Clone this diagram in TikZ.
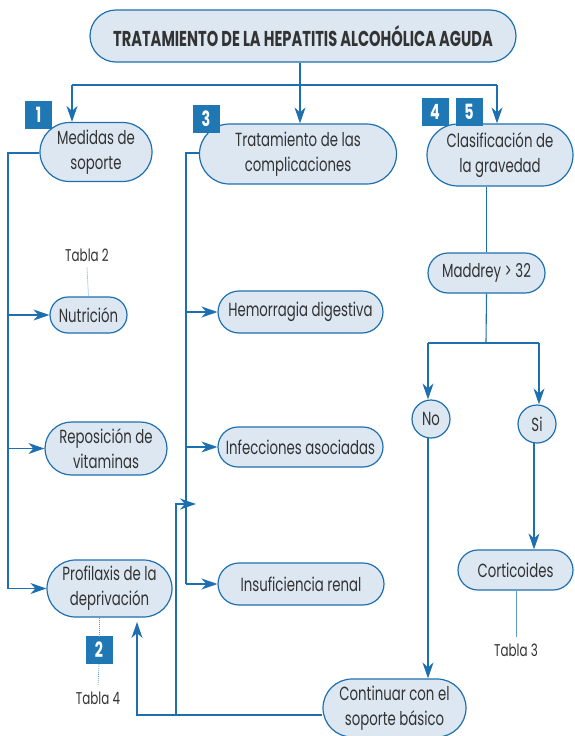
\documentclass[tikz,border=0pt]{standalone}
\usepackage{fontspec}
\setmainfont[FakeStretch=0.7]{Poppins}
\newfontfamily\titlefont[FakeStretch=0.68]{Poppins}
\usetikzlibrary{shapes.misc,shapes.geometric,arrows.meta}
\definecolor{bl}{HTML}{1E6FAF}
\definecolor{fillb}{HTML}{DCE7F2}
\definecolor{badge}{HTML}{1F77B4}
\definecolor{txt}{HTML}{333333}
\definecolor{lightl}{HTML}{5A9BD0}
\begin{document}
\begin{tikzpicture}[x=1pt,y=-1pt,
 pill/.style={rounded rectangle, draw=bl, fill=fillb, line width=1.2pt, inner sep=0pt, text=txt, font=\fontsize{19}{25}\selectfont, align=center},
 circ/.style={circle, draw=bl, fill=fillb, line width=1.2pt, inner sep=0pt, minimum size=38pt, text=txt, font=\fontsize{19}{20}\selectfont},
 conn/.style={draw=bl, line width=1.1pt},
 arr/.style={conn, -{Stealth[length=16pt,width=11pt,inset=5pt]}},
 badgebox/.style={fill=badge, text=white, font=\titlefont\bfseries\fontsize{21}{21}\selectfont, minimum width=27pt, minimum height=28pt, inner sep=0pt},
 lbl/.style={text=txt, font=\fontsize{17}{19}\selectfont, inner sep=0pt},
 dashl/.style={draw=lightl, line width=0.7pt, dash pattern=on 1pt off 1pt},
 solidl/.style={draw=lightl, line width=1pt}
]
\useasboundingbox (0,0) rectangle (574,736);
% nodes
\node[pill, minimum width=426pt, minimum height=52pt, font=\titlefont\bfseries\fontsize{21.5}{22}\selectfont] (title) at (303,36) {TRATAMIENTO DE LA HEPATITIS ALCOHÓLICA AGUDA};
\node[pill, minimum width=112pt, minimum height=59pt] (medidas) at (96,152) {Medidas de\\soporte};
\node[pill, minimum width=197pt, minimum height=60pt] (trat) at (298,154) {Tratamiento de las\\complicaciones};
\node[pill, minimum width=146pt, minimum height=62pt] (clasif) at (500,155) {Clasificación de\\la gravedad};
\node[pill, minimum width=77pt, minimum height=36pt] (nutri) at (88.5,315) {Nutrición};
\node[pill, minimum width=122pt, minimum height=53pt] (repos) at (106,448.5) {Reposición de\\vitaminas};
\node[pill, minimum width=125pt, minimum height=57pt] (profil) at (109.5,588.5) {Profilaxis de la\\deprivación};
\node[pill, minimum width=165pt, minimum height=42pt] (hemo) at (300.5,312) {Hemorragia digestiva};
\node[pill, minimum width=165pt, minimum height=40pt] (infec) at (300.5,447) {Infecciones asociadas};
\node[pill, minimum width=166pt, minimum height=42pt] (insuf) at (301,584) {Insuficiencia renal};
\node[pill, minimum width=117pt, minimum height=40pt] (madd) at (486.5,273) {Maddrey > 32};
\node[circ] (no) at (431,419) {No};
\node[circ] (si) at (537,424) {Si};
\node[pill, minimum width=115pt, minimum height=40pt] (cort) at (515.5,570) {Corticoides};
\node[pill, minimum width=143pt, minimum height=58pt] (cont) at (394.5,708) {Continuar con el\\soporte básico};
% labels
\node[lbl] (t2) at (87,255) {Tabla 2};
\node[lbl] (t4) at (98,698) {Tabla 4};
\node[lbl] (t3) at (516,650) {Tabla 3};
% badges
\node[badgebox] (b1) at (38.5,114.5) {1};
\node[badgebox] (b3) at (206,118.5) {3};
\node[badgebox] (b4) at (435,112) {4};
\node[badgebox] (b5) at (469,112) {5};
\node[badgebox] (b2) at (99,650) {2};
% top connectors
\coordinate (hb) at (300,85);
\coordinate (h1) at (72,85);
\coordinate (h3) at (497,85);
\draw[conn] (title.south -| hb) -- (hb);
\draw[conn] (h1) -- (h3);
\draw[arr] (h1) -- (h1 |- medidas.north);
\draw[arr] (hb) -- (hb |- trat.north);
\draw[arr] (h3) -- (h3 |- clasif.north);
% left spine
\coordinate (l1) at (8,153);
\draw[conn] (medidas.west |- l1) -- (l1) -- (l1 |- profil.west);
\draw[arr] (l1 |- nutri.west) -- (nutri.west);
\draw[arr] (l1 |- repos.west) -- (repos.west);
\draw[arr] (l1 |- profil.west) -- (profil.west);
% group 3 spine
\coordinate (l3) at (186,153);
\draw[conn] (trat.west |- l3) -- (l3) -- (l3 |- insuf.west);
\draw[arr] (l3 |- hemo.west) -- (hemo.west);
\draw[arr] (l3 |- infec.west) -- (infec.west);
\draw[arr] (l3 |- insuf.west) -- (insuf.west);
% classification branch
\coordinate (m1) at (486,343);
\coordinate (mn) at (428,343);
\coordinate (ms) at (539,343);
\draw[conn] (clasif.south -| madd.north) -- (madd.north);
\draw[conn] (madd.south) -- (m1);
\draw[conn] (mn) -- (ms);
\draw[arr] (mn) -- (mn |- no.north);
\draw[arr] (ms) -- (ms |- si.north);
\coordinate (nb) at (428,437);
\coordinate (sb) at (534,443);
\draw[arr] (nb) -- (nb |- cont.north);
\draw[arr] (sb) -- (sb |- cort.north);
% return connectors
\coordinate (c1) at (137,715);
\coordinate (c2) at (176,715);
\coordinate (c3) at (176,504);
\coordinate (c4) at (196,504);
\coordinate (pb) at (137,622);
\draw[arr] (cont.west |- c1) -- (c1) -- (pb);
\draw[arr] (c2) -- (c3) -- (c4);
% table links
\draw[dashl] ([yshift=-6pt]t2.south) -- (nutri.north);
\draw[dashl] (profil.south -| b2.north) -- (b2.north);
\draw[dashl] (b2.south) -- ([yshift=6pt]t4.north);
\draw[solidl] (cort.south -| t3.north) -- ([yshift=6pt]t3.north);
\end{tikzpicture}
\end{document}
